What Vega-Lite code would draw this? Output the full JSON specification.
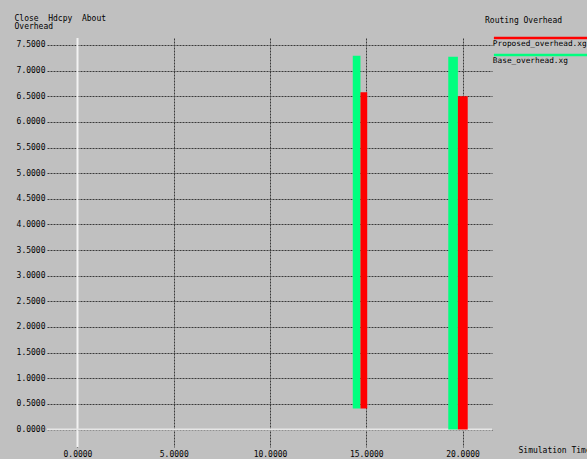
{
  "$schema": "https://vega.github.io/schema/vega-lite/v6.json",
  "width": 445,
  "height": 409,
  "autosize": {"type": "none"},
  "padding": {"left": 47, "top": 38, "right": 95, "bottom": 12},
  "background": "#c0c0c0",
  "config": {
    "view": {"stroke": null},
    "font": "DejaVu Sans Mono",
    "axis": {
      "labelFont": "DejaVu Sans Mono",
      "labelFontSize": 8,
      "labelColor": "#000000",
      "titleFont": "DejaVu Sans Mono",
      "titleFontSize": 8,
      "titleFontWeight": "normal",
      "titleColor": "#000000",
      "domain": false,
      "ticks": false,
      "grid": true,
      "gridColor": "#3a3a3a",
      "gridDash": [2, 1],
      "gridWidth": 1,
      "gridOpacity": 1,
      "labelOverlap": false,
      "labelFlush": false
    }
  },
  "title": {
    "text": "Routing Overhead",
    "anchor": "start",
    "frame": "group",
    "dx": 438,
    "offset": 0,
    "dy": 19,
    "baseline": "bottom",
    "font": "DejaVu Sans Mono",
    "fontSize": 8,
    "fontWeight": "normal",
    "color": "#000000"
  },
  "layer": [
    {
      "data": {"values": [{}]},
      "mark": {"type": "rule", "color": "#f2f2f2", "strokeWidth": 2},
      "encoding": {
        "x": {
          "datum": 0, "type": "quantitative",
          "scale": {"domain": [-1.584, 21.532], "nice": false, "zero": false},
          "axis": {
            "values": [0, 5, 10, 15, 20],
            "format": ".4f",
            "labelPadding": 3,
            "title": "Simulation Time",
            "titleX": 471,
            "titleY": 3,
            "titleAlign": "left",
            "titleBaseline": "middle",
            "titleAngle": 0
          }
        }
      }
    },
    {
      "data": {"values": [{}]},
      "mark": {"type": "rule", "color": "#e6e6e6", "strokeWidth": 2},
      "encoding": {
        "y": {
          "datum": 0, "type": "quantitative",
          "scale": {"domain": [-0.341, 7.636], "nice": false, "zero": false},
          "axis": {
            "values": [0, 0.5, 1, 1.5, 2, 2.5, 3, 3.5, 4, 4.5, 5, 5.5, 6, 6.5, 7, 7.5],
            "format": ".4f",
            "labelPadding": 2,
            "title": ["Close\u00a0\u00a0Hdcpy\u00a0\u00a0About", "Overhead"],
            "titleAngle": 0,
            "titleAlign": "left",
            "titleBaseline": "alphabetic",
            "titleX": -33,
            "titleY": -18,
            "titleLineHeight": 8
          }
        }
      }
    },
    {
      "data": {
        "values": [
          {"series": "Base_overhead.xg", "x0": 14.30, "x1": 14.70, "y0": 0.41, "y1": 7.29},
          {"series": "Proposed_overhead.xg", "x0": 14.70, "x1": 15.05, "y0": 0.41, "y1": 6.58},
          {"series": "Base_overhead.xg", "x0": 19.26, "x1": 19.76, "y0": 0, "y1": 7.27},
          {"series": "Proposed_overhead.xg", "x0": 19.76, "x1": 20.27, "y0": 0, "y1": 6.50}
        ]
      },
      "mark": {"type": "bar", "opacity": 1},
      "encoding": {
        "x": {
          "field": "x0", "type": "quantitative",
          "scale": {"domain": [-1.584, 21.532], "nice": false, "zero": false},
          "axis": {
            "values": [0, 5, 10, 15, 20],
            "format": ".4f",
            "labelPadding": 3,
            "title": "Simulation Time",
            "titleX": 471,
            "titleY": 3,
            "titleAlign": "left",
            "titleBaseline": "middle",
            "titleAngle": 0
          }
        },
        "x2": {"field": "x1"},
        "y": {
          "field": "y0", "type": "quantitative",
          "scale": {"domain": [-0.341, 7.636], "nice": false, "zero": false},
          "axis": {
            "values": [0, 0.5, 1, 1.5, 2, 2.5, 3, 3.5, 4, 4.5, 5, 5.5, 6, 6.5, 7, 7.5],
            "format": ".4f",
            "labelPadding": 2,
            "title": ["Close\u00a0\u00a0Hdcpy\u00a0\u00a0About", "Overhead"],
            "titleAngle": 0,
            "titleAlign": "left",
            "titleBaseline": "alphabetic",
            "titleX": -33,
            "titleY": -18,
            "titleLineHeight": 8
          }
        },
        "y2": {"field": "y1"},
        "color": {
          "field": "series", "type": "nominal",
          "scale": {"domain": ["Proposed_overhead.xg", "Base_overhead.xg"], "range": ["#ff0000", "#00ff7f"]},
          "legend": {
            "orient": "none",
            "legendX": 438,
            "legendY": 2,
            "title": null,
            "symbolType": "M5,-7.2H100V-4.6H5Z",
            "symbolSize": 4,
            "symbolStrokeWidth": 0,
            "symbolOpacity": 1,
            "labelOffset": 0,
            "labelFont": "DejaVu Sans Mono",
            "labelFontSize": 7.8,
            "labelColor": "#000000",
            "labelLimit": 300,
            "rowPadding": 5,
            "padding": 0
          }
        }
      }
    }
  ]
}
